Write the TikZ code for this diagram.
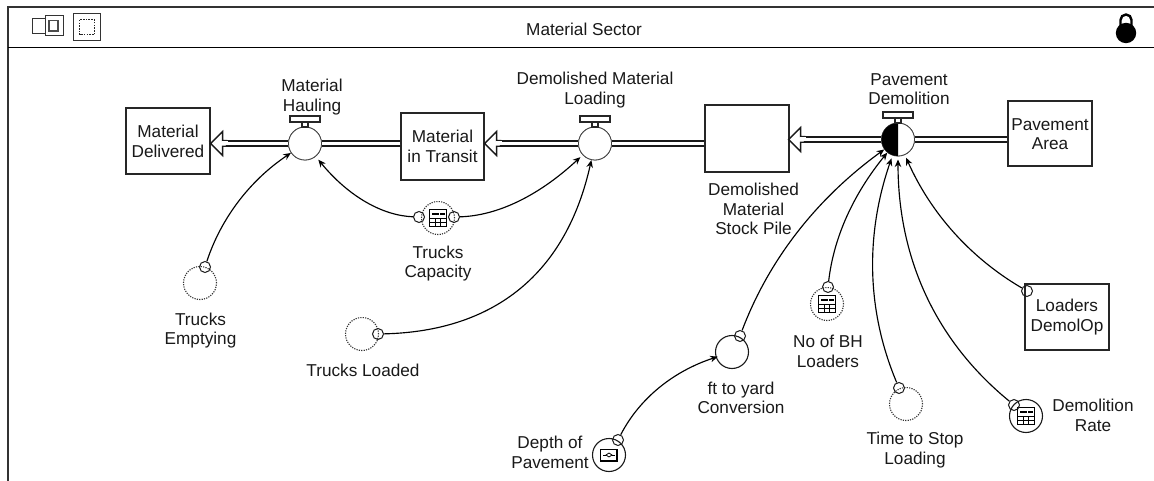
\documentclass[tikz,border=0pt]{standalone}
\usepackage{fontspec}
\setmainfont{Liberation Sans}
\usetikzlibrary{arrows.meta,calc}
\tikzset{
  lbl/.style={inner sep=0pt,align=center,font=\fontsize{17.2}{19.5}\selectfont,text=black!90},
  stock/.style={draw=black!85,line width=1.3pt,fill=white,inner sep=0pt,align=center,font=\fontsize{17.2}{19.5}\selectfont,text=black!90},
  valve/.style={circle,draw=black!75,line width=0.8pt,fill=white,minimum size=33pt,inner sep=0pt,outer sep=0.5pt},
  conv/.style={circle,line width=1.1pt,minimum size=33pt,inner sep=0pt},
  ghost/.style={conv,draw=black!80,dash pattern=on 1.2pt off 1.2pt},
  solidconv/.style={conv,draw=black!90},
  tab/.style={circle,draw=black!90,line width=1pt,minimum size=11pt,inner sep=0pt},
  pipe/.style={draw=black!90,line width=1.5pt,double=white,double distance=3.4pt},
  head/.style={draw=black!90,line width=1.4pt,fill=white,line join=miter},
  link/.style={draw=black,line width=1.15pt,-{Stealth[length=7.5pt,width=6.5pt]}},
  handlebar/.style={draw=black!85,line width=1.1pt,fill=white}
}
\newcommand{\flowhead}[1]{%
  \draw[head] (#1) -- ++(12,-12) -- ++(0,9.2) -- ++(4,0) -- ++(0,5.6) -- ++(-4,0) -- ++(0,9.2) -- cycle;
  \fill[white] ($(#1)+(11.5,-2)$) rectangle ($(#1)+(17,2)$);}
\newcommand{\handle}[2]{%
  \draw[handlebar] (#1-3,#2-16) rectangle (#1+3,#2-21);
  \draw[handlebar] (#1-15,#2-21) rectangle (#1+15,#2-27);}
\newcommand{\tableicon}[2]{%
  \begin{scope}[shift={(#1,#2)}]
  \draw[draw=black,line width=1.1pt,fill=white] (-8.5,-8.5) rectangle (8.5,8.5);
  \draw[black,line width=0.9pt] (-8.5,0.5) -- (8.5,0.5) (-8.5,4.5) -- (8.5,4.5) (-2.8,0.5) -- (-2.8,8.5) (2.8,0.5) -- (2.8,8.5);
  \draw[black,line width=1.6pt] (-6,-4) -- (0.5,-4) (2,-4) -- (6.5,-4);
  \end{scope}}
\begin{document}
\begin{tikzpicture}[x=1pt,y=-1pt]
\useasboundingbox (0,0) rectangle (1154,481);
% frame
\draw[black!80,line width=1.1pt] (1154,7) -- (8,7) -- (8,481);
\draw[black,line width=1.6pt] (8,47.5) -- (1154,47.5);
\node[lbl] (title) at (584,29) {Material Sector};
% header icons
\draw[black!80,line width=1pt] (32,19) rectangle (45,33.5);
\draw[black!80,line width=1pt] (45,16) rectangle (63.5,36);
\draw[black!70,line width=1.4pt] (49,20.5) rectangle (58,31);
\draw[black!80,line width=1pt] (73.5,14) rectangle (100,41);
\draw[black!85,line width=1pt,dash pattern=on 1.5pt off 1.2pt] (79.5,20) rectangle (94.5,34.5);
% lock
\fill[black] (1126,33) circle (10.2);
\draw[black,line width=2.4pt] (1120.5,27) -- (1120.5,20) arc[start angle=180,end angle=360,radius=5.5] -- (1131.5,27);
% stocks
\node[stock,minimum width=84pt,minimum height=66pt] (md) at (168,141) {\rule{0pt}{13pt}Material\\Delivered};
\node[stock,minimum width=83pt,minimum height=67pt] (mt) at (442.5,146.5) {Material\\in Transit};
\node[stock,minimum width=84pt,minimum height=67pt] (sp) at (747,138.5) {};
\node[stock,minimum width=84pt,minimum height=65pt] (pa) at (1050,133.5) {\rule{0pt}{13pt}Pavement\\Area};
\node[stock,minimum width=84pt,minimum height=66pt] (ld) at (1067,317) {Loaders\\DemolOp};
% valves
\coordinate (vhc) at (305,143.5);
\coordinate (vlc) at (595,143.5);
\coordinate (vpc) at (898,139.5);
% pipes
\node[valve] (vh) at (vhc) {};
\node[valve] (vl) at (vlc) {};
\node[valve] (vp) at (vpc) {};
\draw[pipe] (mt.west |- vh) -- (vh.east);
\draw[pipe,shorten >=13pt] (vh.west) -- (md.east |- vh);
\flowhead{$(md.east |- vh)$}
\draw[pipe] (sp.west |- vl) -- (vl.east);
\draw[pipe,shorten >=13pt] (vl.west) -- (mt.east |- vl);
\flowhead{$(mt.east |- vl)$}
\draw[pipe] (pa.west |- vp) -- (vp.east);
\draw[pipe,shorten >=11pt] (vp.west) -- ($(sp.east |- vp)+(-1,0)$);
\flowhead{$(sp.east |- vp)+(-1,0)$}
\node[valve] at (vhc) {};
\node[valve] at (vlc) {};
\node[valve] at (vpc) {};
\fill[black] (898,123) arc[start angle=-90,end angle=-270,radius=16.5] -- cycle;
\handle{305}{143}
\handle{595}{143}
\handle{898}{139}
% converters
\node[ghost] (te) at (200,283) {};
\node[ghost] (tc) at (438,218) {};
\node[ghost] (tl) at (362,334) {};
\node[ghost] (nb) at (827,304) {};
\node[ghost] (ts) at (906,404) {};
\node[solidconv] (fy) at (732,352) {};
\node[solidconv] (dp) at (609,455) {};
\node[solidconv] (dr) at (1026,416) {};
\tableicon{438}{218}
\tableicon{827}{304}
\tableicon{1026}{416}
\draw[black,line width=1.1pt,fill=white] (600.5,449.5) rectangle (617,461);
\draw[black,line width=0.9pt] (603,455) -- (606,455) (612,455) -- (615,455);
\draw[black,line width=0.8pt] (606,455) -- (609,453) -- (612,455) -- (609,457) -- cycle;
% connector tabs
\node[tab] (teo) at (205,267) {};
\node[tab] (tcl) at (419,217) {};
\node[tab] (tcr) at (454,217) {};
\node[tab] (tlo) at (378,334) {};
\node[tab] (fyo) at (740,336) {};
\node[tab] (dpo) at (618,440) {};
\node[tab] (nbo) at (828,287) {};
\node[tab] (tso) at (899,388) {};
\node[tab] (dro) at (1014,405) {};
\node[tab] (ldo) at (1027,291) {};
% connectors
\draw[link] (teo) .. controls (220.7,219.3) and (249,181) .. (vh);
\draw[link,shorten >=4pt] (tcl) .. controls (383,215.7) and (349,197) .. (vh);
\draw[link,shorten >=3pt] (tcr) .. controls (498,215.7) and (539.3,195.3) .. (vl);
\draw[link] (tlo) .. controls (494.7,331.3) and (566.3,273.3) .. (vl);
\draw[link,shorten >=-2pt] (dpo) .. controls (639.3,398.7) and (673,371.3) .. (fy);
\draw[link] (fyo) .. controls (768.7,260) and (816.3,198.7) .. (vp);
\draw[link] (nbo) .. controls (833.7,237) and (853.7,193.7) .. (vp);
\draw[link,shorten >=3pt] (tso) .. controls (867,312) and (864.7,236) .. (vp);
\draw[link,shorten >=3pt] (dro) .. controls (936.3,341.4) and (898,259.4) .. (vp);
\draw[link,shorten >=3pt] (ldo) .. controls (970.7,258) and (931,213.7) .. (vp);
% labels
\node[lbl] (lvh) at (312,97) {Material\\Hauling};
\node[lbl] (lvl) at (595,90) {Demolished Material\\Loading};
\node[lbl] (lvp) at (909,89) {Pavement\\Demolition};
\node[lbl] (lsp) at (753.5,209) {Demolished\\Material\\Stock Pile};
\node[lbl] (ltc) at (438,263.5) {Trucks\\Capacity};
\node[lbl] (lte) at (200.5,330.5) {Trucks\\Emptying};
\node[lbl] (ltl) at (363,370) {Trucks Loaded};
\node[lbl] (lfy) at (741,398) {ft to yard\\Conversion};
\node[lbl] (lnb) at (828,351.5) {No of BH\\Loaders};
\node[lbl] (lts) at (915,450) {Time to Stop\\Loading};
\node[lbl] (ldr) at (1093,415.5) {Demolition\\Rate};
\node[lbl] (ldp) at (550,452.5) {Depth of\\Pavement};
\end{tikzpicture}
\end{document}
